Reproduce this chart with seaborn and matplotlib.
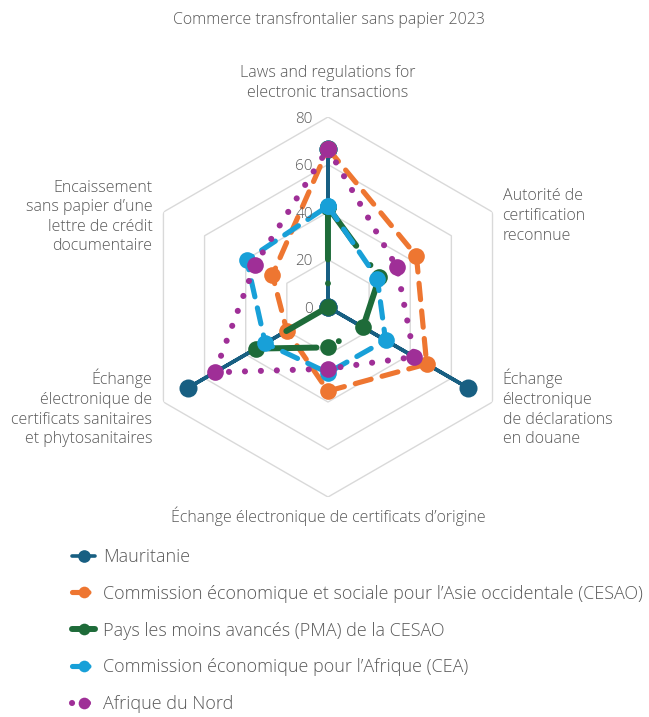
import numpy as np
import pandas as pd
import seaborn as sns
import matplotlib.pyplot as plt

sns.set_style("white")
plt.rcParams['font.family'] = ['Open Sans', 'DejaVu Sans']

title = "Commerce transfrontalier sans papier 2023"
categories = ["Laws and regulations for\nelectronic transactions",
              "Autorité de\ncertification\nreconnue",
              "Échange\nélectronique\nde déclarations\nen douane",
              "Échange électronique de certificats d’origine",
              "Échange\nélectronique de\ncertificats sanitaires\net phytosanitaires",
              "Encaissement\nsans papier d’une\nlettre de crédit\ndocumentaire"]
series = ["Mauritanie",
          "Commission économique et sociale pour l’Asie occidentale (CESAO)",
          "Pays les moins avancés (PMA) de la CESAO",
          "Commission économique pour l’Afrique (CEA)",
          "Afrique du Nord"]
mauritanie = [66.7, 0, 68, 0, 68, 0]
cesao = [66.7, 43, 48, 35.4, 20, 27]
pma = [42, 25, 17, 17, 35, 0]
cea = [42.5, 24, 28, 27.7, 30.5, 39.5]
afrique_nord = [66.7, 33.5, 42, 26, 55, 35.5]
ticks = [0, 20, 40, 60, 80]

values = [mauritanie, cesao, pma, cea, afrique_nord]
colors = ["#185f82", "#ee7631", "#1e6b39", "#18a0d8", "#9f2f97"]
styles = ["-", (0, (3.2, 2.2)), (0, (8, 4, 0.01, 4)), (0, (3.2, 2.2)), (0, (0.01, 2.6))]
lws = [2.6, 3.7, 4.3, 3.7, 4.4]
msizes = [13, 12, 12, 12, 12]

fig = plt.figure(figsize=(6.49, 7.17), dpi=100)
ax = fig.add_axes([0.2126, 0.3068, 0.5855, 0.530], projection="polar")
ax.set_theta_offset(np.pi / 2)
ax.set_theta_direction(-1)

n = len(categories)
theta = np.linspace(0, 2 * np.pi, n, endpoint=False)
theta_c = np.append(theta, 2 * np.pi)

# hexagonal grid
for t in ticks[1:]:
    ax.plot(theta_c, [t] * (n + 1), color="#d9d9d9", lw=1.0, zorder=0)

for name, vals, c, ls, lw, ms in zip(series, values, colors, styles, lws, msizes):
    df = pd.DataFrame({"theta": theta_c, "value": vals + [vals[0]]})
    sns.lineplot(data=df, x="theta", y="value", ax=ax, sort=False, estimator=None,
                 color=c, linestyle=ls, lw=lw, marker="o", markersize=ms,
                 markeredgecolor=c, markeredgewidth=0, dash_capstyle="round",
                 solid_capstyle="round", label=name)

ax.set_ylim(0, 80)
ax.set_xticks([])
ax.set_yticks([])
ax.grid(False)
ax.spines["polar"].set_visible(False)
ax.set_xlabel("")
ax.set_ylabel("")

gray = "#595959"
for t in ticks:
    ax.annotate(str(t), xy=(0, t), xytext=(-15, -2), textcoords="offset pixels",
                ha="right", va="center", fontsize=11, color=gray, fontweight="light")

offsets = [(0, 34, "center"), (10, -4, "left"), (10, -6, "left"),
           (0, -19, "center"), (-11, -6, "right"), (-11, -5, "right")]
for th, lab, (dx, dy, ha) in zip(theta, categories, offsets):
    ax.annotate(lab, xy=(th, 80), xytext=(dx, dy), textcoords="offset pixels",
                ha=ha, va="center", fontsize=11.5, color=gray, fontweight="light",
                linespacing=1.3)

fig.text(0.507, 1 - 20 / 717, title, ha="center", va="center", fontsize=11.5,
         color=gray, fontweight="light")

handles, labels = ax.get_legend_handles_labels()
if ax.legend_:
    ax.legend_.remove()
leg = fig.legend(handles, labels, loc="upper left", bbox_to_anchor=(72 / 649, 1 - 548 / 717),
                 frameon=False, fontsize=13, handlelength=1.3, handletextpad=0.4,
                 labelspacing=1.04, borderpad=0, borderaxespad=0, markerscale=0.7)
for txt in leg.get_texts():
    txt.set_color(gray)
    txt.set_fontweight("light")

fig.savefig("out.png", dpi=100)
